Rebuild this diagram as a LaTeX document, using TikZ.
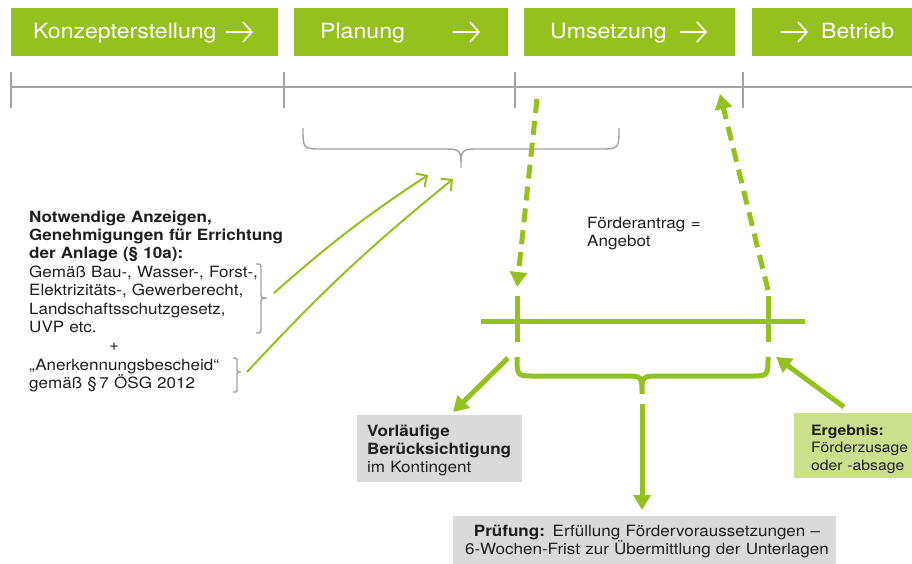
\documentclass[tikz,border=0pt]{standalone}
\usepackage{fontspec}
\setmainfont{TeX Gyre Heros}[FakeStretch=1.1]
\usetikzlibrary{arrows.meta}
\definecolor{kgreen}{HTML}{95C11F}
\definecolor{klight}{HTML}{CBDF8C}
\definecolor{kgray}{HTML}{DADADA}
\definecolor{kline}{HTML}{A3A3A3}
\definecolor{ktext}{HTML}{1E1E1E}

\tikzset{
  phase/.style={fill=kgreen, anchor=north west, inner sep=0pt, minimum height=48pt},
  phasetext/.style={anchor=base west, inner sep=0pt, text=white, font=\fontsize{21}{25}\selectfont},
  phasearrow/.style={draw=white, line width=1.6pt, -{Straight Barb[length=9pt,width=20pt,line width=1.6pt]}},
  timeline/.style={draw=kline, line width=1.5pt},
  gbrace/.style={draw=kline, line width=1.4pt},
  btext/.style={inner sep=0pt, text=ktext, font=\fontsize{15.5}{18.4}\selectfont},
  feed/.style={draw=kgreen, line width=2pt, -{Straight Barb[length=8pt,width=16pt,line width=2pt]}},
  dashgreen/.style={draw=kgreen, line width=5pt, dash pattern=on 14pt off 8pt, -{Triangle[length=15pt,width=17pt]}},
  thickgreen/.style={draw=kgreen, line width=5pt},
  thickarrow/.style={thickgreen, -{Triangle[length=15pt,width=17pt]}},
  graybox/.style={fill=kgray, anchor=north west, inner sep=0pt},
  lightbox/.style={fill=klight, anchor=north west, inner sep=0pt},
}

\begin{document}
\begin{tikzpicture}[x=1pt,y=-1pt]
  \useasboundingbox (0,0) rectangle (912,563);

  % phases
  \node[phase, minimum width=267pt] (konzept) at (11,7.5) {};
  \node[phase, minimum width=214pt] (planung) at (294,7.5) {};
  \node[phase, minimum width=211pt] (umsetzung) at (524,7.5) {};
  \node[phase, minimum width=165pt] (betrieb) at (752,7.5) {};

  \node[phasetext] (konzepttxt) at (33,38) {Konzepterstellung};
  \node[phasetext] (planungtxt) at (320,38) {Planung};
  \node[phasetext] (umsetzungtxt) at (550,38) {Umsetzung};
  \node[phasetext] (betriebtxt) at (821,38) {Betrieb};

  \foreach \x in {226,453,680,781} {
    \draw[phasearrow] (\x,32) -- ++(27,0);
  }

  % timeline
  \draw[timeline] (11,87) -- (912,87);
  \foreach \x in {11,284,515,743} {
    \draw[timeline] (\x,72) -- (\x,108);
  }

  % brace over planning
  \draw[gbrace] (303,128) .. controls (303,149) .. (323,149) -- (441,149)
    .. controls (461,149) .. (461,168) .. controls (461,149) .. (481,149)
    -- (599,149) .. controls (619,149) .. (619,128);
  \coordinate (plantip) at (461,168);

  % requirements
  \node[btext, text width=270pt, align=left, anchor=base west] (req) at (29,222)
    {\textbf{Notwendige Anzeigen,}\\
     \textbf{Genehmigungen für Errichtung}\\
     \textbf{der Anlage (§ 10a):}\\
     Gemäß Bau-, Wasser-, Forst-,\\
     Elektrizitäts-, Gewerberecht,\\
     Landschaftsschutzgesetz,\\
     UVP etc.};
  \node[btext, anchor=base] (plus) at (114,350) {+};
  \node[btext, text width=220pt, align=left, anchor=base west] (ack) at (29,370)
    {„Anerkennungsbescheid“\\
     gemäß §\,7 ÖSG 2012};

  \draw[gbrace] (256,264) .. controls (261,264) .. (261,269) -- (261,293)
    .. controls (261,298) .. (267,298) .. controls (261,298) .. (261,303)
    -- (261,328) .. controls (261,333) .. (256,333);
  \draw[gbrace] (233,358) .. controls (237,358) .. (237,362) -- (237,368)
    .. controls (237,372) .. (241,372) .. controls (237,372) .. (237,376)
    -- (237,388) .. controls (237,392) .. (233,392);
  \coordinate (reqtip) at (274,293);
  \coordinate (acktip) at (247,372);

  \draw[feed] (reqtip) to[bend left=4] ([shift={(-33,7)}]plantip);
  \draw[feed] (acktip) to[bend left=4] ([shift={(-8,11)}]plantip);

  % application
  \node[btext, text width=120pt, align=left, anchor=base west] (antrag) at (587,228)
    {Förderantrag =\\Angebot};

  \coordinate (lstart) at (537,99);
  \coordinate (ltip) at (517,287);
  \coordinate (rstart) at (768,290);
  \coordinate (rtip) at (720,94);
  \draw[dashgreen] (lstart) -- (ltip);
  \draw[dashgreen] (rstart) -- (rtip);

  % green time bar
  \draw[thickgreen] (481,321) -- (805,321);
  \draw[thickgreen] (517,296) -- (517,342);
  \draw[thickgreen] (768,296) -- (768,342);

  \draw[thickgreen] (517,357) .. controls (517,376) .. (535,376) -- (624,376)
    .. controls (642,376) .. (642,394) .. controls (642,376) .. (660,376)
    -- (750,376) .. controls (768,376) .. (768,357);

  % result boxes
  \node[graybox, minimum width=165pt, minimum height=67pt] (prelimbox) at (357,415) {};
  \node[btext, text width=155pt, align=left, anchor=base west] (prelim) at (367,436)
    {\textbf{Vorläufige}\\\textbf{Berücksichtigung}\\im Kontingent};

  \node[lightbox, minimum width=125pt, minimum height=65pt] (resultbox) at (794,413) {};
  \node[btext, font=\fontsize{14.3}{17.6}\selectfont, text width=100pt, align=left,
    anchor=base west] (result) at (811,435)
    {\textbf{Ergebnis:}\\Förderzusage\\oder -absage};

  \node[graybox, minimum width=383pt, minimum height=55pt] (checkbox) at (453,516) {};
  \node[btext, text width=390pt, align=center, anchor=base] (check) at (647,536)
    {\textbf{Prüfung:} Erfüllung Fördervoraussetzungen –\\
     6-Wochen-Frist zur Übermittlung der Unterlagen};

  \draw[thickarrow] (508,358) -- (453,412);
  \draw[thickarrow] (844,407) -- (776,357);
  \draw[thickarrow] (642,404) -- (642,510);
\end{tikzpicture}
\end{document}
